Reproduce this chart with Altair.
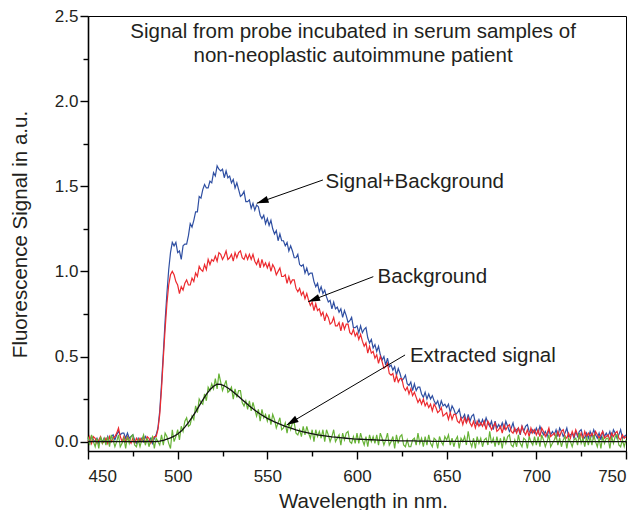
import altair as alt
import pandas as pd

# wavelength grids (nm)
wavelength = list(range(450, 751, 1))       # measured spectra, 1 nm sampling
wavelength_fit = list(range(450, 751, 2))   # smooth fit, 2 nm sampling

# Signal + Background (blue), one row = 10 nm
signal_bg = [
    0.02, 0.00, 0.03, 0.01, 0.00, 0.02, -0.01, 0.02, 0.00, 0.02,
    0.00, 0.03, -0.01, 0.03, 0.04, 0.01, 0.04, 0.06, 0.04, 0.05,
    0.05, 0.02, 0.05, 0.02, 0.03, 0.04, 0.01, -0.01, 0.02, 0.00,
    0.02, 0.00, 0.03, 0.01, 0.00, 0.02, -0.01, 0.02, 0.04, 0.08,
    0.18, 0.34, 0.52, 0.71, 0.87, 1.01, 1.11, 1.17, 1.15, 1.17,
    1.11, 1.12, 1.07, 1.15, 1.16, 1.16, 1.21, 1.28, 1.26, 1.30,
    1.35, 1.35, 1.44, 1.43, 1.48, 1.51, 1.49, 1.49, 1.53, 1.52,
    1.58, 1.56, 1.62, 1.60, 1.59, 1.60, 1.55, 1.59, 1.55, 1.56,
    1.52, 1.54, 1.49, 1.52, 1.48, 1.44, 1.45, 1.47, 1.41, 1.41,
    1.42, 1.37, 1.40, 1.36, 1.39, 1.38, 1.33, 1.31, 1.33, 1.28,
    1.31, 1.27, 1.30, 1.25, 1.22, 1.24, 1.18, 1.22, 1.18, 1.18,
    1.15, 1.17, 1.12, 1.15, 1.12, 1.08, 1.08, 1.10, 1.04, 1.03,
    1.04, 0.99, 1.02, 0.98, 0.99, 0.99, 0.94, 0.91, 0.93, 0.88,
    0.91, 0.87, 0.89, 0.85, 0.82, 0.83, 0.78, 0.82, 0.78, 0.79,
    0.76, 0.78, 0.73, 0.77, 0.74, 0.70, 0.71, 0.73, 0.67, 0.67,
    0.68, 0.64, 0.68, 0.64, 0.66, 0.67, 0.61, 0.58, 0.60, 0.55,
    0.57, 0.53, 0.56, 0.51, 0.48, 0.50, 0.45, 0.49, 0.44, 0.45,
    0.42, 0.44, 0.39, 0.43, 0.40, 0.36, 0.37, 0.39, 0.34, 0.33,
    0.35, 0.30, 0.34, 0.30, 0.32, 0.32, 0.28, 0.26, 0.29, 0.25,
    0.28, 0.25, 0.27, 0.24, 0.22, 0.24, 0.20, 0.24, 0.21, 0.22,
    0.20, 0.22, 0.17, 0.21, 0.19, 0.16, 0.17, 0.19, 0.14, 0.14,
    0.16, 0.11, 0.16, 0.12, 0.15, 0.16, 0.11, 0.10, 0.13, 0.10,
    0.13, 0.10, 0.14, 0.11, 0.09, 0.12, 0.07, 0.12, 0.08, 0.10,
    0.08, 0.11, 0.07, 0.12, 0.09, 0.06, 0.08, 0.11, 0.06, 0.07,
    0.08, 0.04, 0.09, 0.06, 0.09, 0.10, 0.06, 0.05, 0.07, 0.05,
    0.08, 0.05, 0.09, 0.06, 0.04, 0.06, 0.03, 0.07, 0.04, 0.06,
    0.04, 0.07, 0.03, 0.08, 0.06, 0.03, 0.05, 0.08, 0.03, 0.04,
    0.05, 0.02, 0.06, 0.03, 0.06, 0.07, 0.03, 0.02, 0.05, 0.02,
    0.06, 0.03, 0.07, 0.04, 0.02, 0.05, 0.01, 0.06, 0.03, 0.05,
    0.03, 0.06, 0.02, 0.07, 0.05, 0.02, 0.04, 0.07, 0.02, 0.03,
    0.04,
]

# Background (red)
background = [
    0.00, 0.03, -0.01, 0.03, 0.02, -0.01, 0.01, 0.03, -0.01, 0.00,
    0.02, -0.01, 0.03, 0.00, 0.02, 0.03, 0.05, 0.08, 0.03, 0.00,
    0.03, 0.00, 0.03, 0.01, -0.01, 0.02, -0.01, 0.02, 0.00, 0.02,
    0.00, 0.03, -0.01, 0.03, 0.02, -0.01, 0.01, 0.03, 0.03, 0.07,
    0.16, 0.31, 0.49, 0.66, 0.81, 0.92, 0.98, 1.00, 0.98, 0.94,
    0.92, 0.87, 0.91, 0.89, 0.93, 0.95, 0.92, 0.92, 0.96, 0.94,
    0.99, 0.97, 1.03, 1.01, 1.00, 1.04, 1.01, 1.07, 1.04, 1.07,
    1.06, 1.09, 1.06, 1.11, 1.10, 1.07, 1.09, 1.12, 1.07, 1.08,
    1.10, 1.06, 1.11, 1.08, 1.11, 1.12, 1.08, 1.07, 1.10, 1.07,
    1.10, 1.07, 1.10, 1.06, 1.04, 1.07, 1.02, 1.07, 1.03, 1.05,
    1.02, 1.05, 1.00, 1.04, 1.02, 0.98, 1.00, 1.02, 0.97, 0.97,
    0.98, 0.93, 0.97, 0.93, 0.95, 0.95, 0.90, 0.88, 0.90, 0.86,
    0.88, 0.84, 0.87, 0.83, 0.80, 0.82, 0.77, 0.81, 0.77, 0.78,
    0.74, 0.76, 0.71, 0.75, 0.73, 0.69, 0.70, 0.73, 0.68, 0.68,
    0.70, 0.65, 0.70, 0.66, 0.69, 0.69, 0.64, 0.63, 0.66, 0.62,
    0.64, 0.60, 0.63, 0.59, 0.56, 0.58, 0.52, 0.56, 0.52, 0.53,
    0.49, 0.51, 0.46, 0.50, 0.47, 0.43, 0.44, 0.46, 0.40, 0.39,
    0.40, 0.35, 0.39, 0.35, 0.37, 0.37, 0.32, 0.30, 0.32, 0.28,
    0.31, 0.27, 0.29, 0.26, 0.23, 0.25, 0.22, 0.25, 0.21, 0.23,
    0.20, 0.22, 0.18, 0.22, 0.20, 0.17, 0.18, 0.20, 0.15, 0.16,
    0.17, 0.13, 0.17, 0.13, 0.16, 0.16, 0.12, 0.11, 0.14, 0.10,
    0.14, 0.11, 0.14, 0.11, 0.09, 0.12, 0.08, 0.12, 0.09, 0.11,
    0.09, 0.12, 0.07, 0.12, 0.10, 0.07, 0.09, 0.11, 0.06, 0.07,
    0.09, 0.05, 0.10, 0.07, 0.09, 0.10, 0.06, 0.05, 0.08, 0.05,
    0.08, 0.05, 0.09, 0.06, 0.04, 0.07, 0.03, 0.08, 0.05, 0.07,
    0.04, 0.07, 0.03, 0.08, 0.06, 0.03, 0.05, 0.08, 0.03, 0.04,
    0.05, 0.02, 0.06, 0.03, 0.06, 0.07, 0.03, 0.02, 0.05, 0.02,
    0.06, 0.03, 0.07, 0.04, 0.02, 0.05, 0.01, 0.06, 0.03, 0.05,
    0.03, 0.05, 0.02, 0.06, 0.04, 0.02, 0.04, 0.06, 0.02, 0.03,
    0.04, 0.01, 0.05, 0.03, 0.05, 0.06, 0.02, 0.01, 0.04, 0.02,
    0.03,
]

# Extracted signal (green)
extracted = [
    0.03, -0.02, 0.04, 0.00, -0.03, 0.02, -0.04, 0.03, -0.01, 0.02,
    -0.02, 0.03, -0.03, 0.04, 0.01, -0.03, 0.00, 0.04, -0.03, -0.01,
    0.02, -0.04, 0.03, -0.01, 0.03, 0.04, -0.02, -0.03, 0.01, -0.03,
    0.01, 0.04, -0.02, 0.02, -0.03, 0.01, 0.03, -0.04, 0.02, 0.00,
    -0.02, 0.04, -0.02, 0.05, 0.03, -0.01, -0.04, 0.07, 0.00, 0.03,
    0.07, 0.01, 0.09, 0.06, 0.12, 0.14, 0.09, 0.10, 0.15, 0.13,
    0.21, 0.17, 0.25, 0.23, 0.22, 0.28, 0.24, 0.32, 0.30, 0.34,
    0.31, 0.37, 0.31, 0.40, 0.35, 0.30, 0.33, 0.36, 0.29, 0.30,
    0.32, 0.25, 0.31, 0.26, 0.30, 0.30, 0.23, 0.21, 0.24, 0.19,
    0.24, 0.18, 0.23, 0.19, 0.15, 0.19, 0.12, 0.19, 0.14, 0.16,
    0.12, 0.16, 0.10, 0.16, 0.13, 0.08, 0.11, 0.14, 0.07, 0.08,
    0.11, 0.05, 0.11, 0.07, 0.11, 0.11, 0.05, 0.04, 0.07, 0.03,
    0.09, 0.04, 0.09, 0.05, 0.02, 0.07, 0.00, 0.07, 0.03, 0.06,
    0.02, 0.07, 0.00, 0.07, 0.04, 0.00, 0.03, 0.07, 0.00, 0.02,
    0.04, -0.02, 0.05, 0.01, 0.05, 0.06, 0.00, -0.01, 0.03, -0.01,
    0.05, -0.01, 0.05, 0.01, -0.02, 0.03, -0.03, 0.04, 0.00, 0.03,
    -0.01, 0.04, -0.02, 0.05, 0.02, -0.02, 0.01, 0.05, -0.02, 0.00,
    0.03, -0.04, 0.04, -0.01, 0.03, 0.04, -0.02, -0.03, 0.01, -0.03,
    -0.03, 0.01, 0.02, -0.02, 0.05, -0.01, 0.02, -0.03, 0.03, -0.02,
    0.04, -0.01, -0.03, 0.02, 0.01, -0.04, 0.03, 0.00, -0.02, 0.03,
    0.01, 0.04, -0.02, 0.02, -0.03, 0.01, 0.03, -0.04, 0.02, 0.00,
    0.03, -0.02, 0.06, 0.00, -0.03, 0.02, -0.04, 0.03, -0.01, 0.02,
    -0.03, 0.01, 0.02, -0.02, 0.06, -0.01, 0.02, -0.03, 0.03, -0.02,
    0.02, -0.04, 0.03, -0.01, 0.03, 0.04, -0.02, -0.03, 0.01, -0.03,
    0.04, -0.01, -0.03, 0.02, 0.01, -0.04, 0.03, 0.00, -0.02, 0.03,
    -0.02, 0.03, -0.03, 0.04, 0.01, -0.03, 0.00, 0.04, -0.03, -0.01,
    0.01, 0.04, -0.02, 0.02, -0.03, 0.01, 0.03, -0.04, 0.02, 0.00,
    -0.03, 0.01, 0.02, -0.02, 0.05, -0.01, 0.02, -0.03, 0.03, -0.02,
    0.03, -0.02, 0.04, 0.00, -0.03, 0.02, -0.04, 0.03, -0.01, 0.02,
    0.02, -0.04, 0.03, -0.01, 0.03, 0.04, -0.02, -0.03, 0.01, -0.03,
    0.01,
]

# Smooth fit of the extracted signal (black), one row = 20 nm
fit = [
    0.0, 0.0, 0.0, 0.0, 0.0, 0.0, 0.0, 0.0, 0.0, 0.0,
    0.0, 0.0, 0.0, 0.0, 0.0, 0.0, 0.0, 0.0, 0.0, 0.0,
    0.003, 0.008, 0.015, 0.022, 0.032, 0.045, 0.062, 0.085, 0.112, 0.142,
    0.175, 0.210, 0.245, 0.278, 0.305, 0.325, 0.337, 0.336, 0.328, 0.315,
    0.300, 0.283, 0.265, 0.246, 0.228, 0.210, 0.193, 0.177, 0.162, 0.149,
    0.137, 0.126, 0.116, 0.107, 0.098, 0.090, 0.083, 0.076, 0.069, 0.063,
    0.058, 0.053, 0.048, 0.044, 0.040, 0.037, 0.034, 0.031, 0.028, 0.026,
    0.024, 0.022, 0.020, 0.018, 0.016, 0.015, 0.014, 0.013, 0.012, 0.011,
    0.010, 0.009, 0.008, 0.007, 0.007, 0.006, 0.006, 0.005, 0.005, 0.004,
    0.004, 0.004, 0.003, 0.003, 0.003, 0.003, 0.002, 0.002, 0.002, 0.002,
    0.002, 0.002, 0.001, 0.001, 0.001, 0.001, 0.001, 0.001, 0.001, 0.001,
    0.0, 0.0, 0.0, 0.0, 0.0, 0.0, 0.0, 0.0, 0.0, 0.0,
    0.0, 0.0, 0.0, 0.0, 0.0, 0.0, 0.0, 0.0, 0.0, 0.0,
    0.0, 0.0, 0.0, 0.0, 0.0, 0.0, 0.0, 0.0, 0.0, 0.0,
    0.0, 0.0, 0.0, 0.0, 0.0, 0.0, 0.0, 0.0, 0.0, 0.0,
    0.0,
]

# tick values
x_ticks = [450, 475, 500, 525, 550, 575, 600, 625, 650, 675, 700, 725, 750]
y_ticks = [0.0, 0.25, 0.5, 0.75, 1.0, 1.25, 1.5, 1.75, 2.0, 2.25, 2.5]

# annotations
title_lines = ["Signal from probe incubated in serum samples of",
               "non-neoplastic autoimmune patient"]
title_x = [597.8, 597.8]
title_y = [2.406, 2.265]

ann_labels = ["Signal+Background", "Background", "Extracted signal"]
ann_x = [582.5, 611.5, 629.5]
ann_y = [1.525, 0.967, 0.503]
arrow_from_x = [581.0, 609.1, 626.8]
arrow_from_y = [1.537, 0.969, 0.509]
arrow_to_x = [544.1, 572.8, 560.8]
arrow_to_y = [1.40, 0.822, 0.098]
arrow_angle = [250.7, 249.0, 239.4]

FONT = "Liberation Sans"
TXT = "#231f20"


def frame(xs, vals):
    return pd.DataFrame({"wavelength": xs, "value": vals})


x_enc = alt.X(
    "wavelength:Q",
    scale=alt.Scale(domain=[450, 750], nice=False, zero=False),
    axis=alt.Axis(
        values=x_ticks,
        labelExpr="datum.value % 50 === 0 ? datum.label : ''",
        tickSize={"condition": {"test": "datum.value % 50 === 0", "value": 8}, "value": 5},
        title="Wavelength in nm.",
        titleX=275,
        titleY=56,
        titleBaseline="alphabetic",
        titleAlign="center",
        labelPadding=9,
        grid=False,
    ),
)
y_enc = alt.Y(
    "value:Q",
    scale=alt.Scale(domain=[-0.055, 2.5], nice=False, zero=False),
    axis=alt.Axis(
        values=y_ticks,
        labelExpr="abs(datum.value % 0.5) < 1e-9 ? format(datum.value, '.1f') : ''",
        tickSize={"condition": {"test": "abs(datum.value % 0.5) < 1e-9", "value": 8}, "value": 5},
        title="Fluorescence Signal in a.u.",
        titleX=-68,
        titleY=218,
        titleAngle=270,
        titleBaseline="middle",
        titleAlign="center",
        labelPadding=2,
        grid=False,
    ),
)


def line(xs, vals, color, width=1.2):
    return alt.Chart(frame(xs, vals)).mark_line(color=color, strokeWidth=width).encode(
        x=x_enc, y=y_enc
    )


blue = line(wavelength, signal_bg, "#2f4fa2")
red = line(wavelength, background, "#ec2a2f")
green = line(wavelength, extracted, "#66b236")
black = line(wavelength_fit, fit, "#111111", 1.3)

title_df = pd.DataFrame({"wavelength": title_x, "value": title_y, "label": title_lines})
title_layer = alt.Chart(title_df).mark_text(
    align="center", baseline="middle", font=FONT, fontSize=20.5, color=TXT
).encode(x=x_enc, y=y_enc, text="label:N")

ann_df = pd.DataFrame({"wavelength": ann_x, "value": ann_y, "label": ann_labels})
ann_layer = alt.Chart(ann_df).mark_text(
    align="left", baseline="middle", font=FONT, fontSize=20.5, color=TXT
).encode(x=x_enc, y=y_enc, text="label:N")

arrow_df = pd.DataFrame({
    "wavelength": arrow_from_x, "value": arrow_from_y,
    "wavelength2": arrow_to_x, "value2": arrow_to_y,
})
arrow_lines = alt.Chart(arrow_df).mark_rule(color="black", strokeWidth=1).encode(
    x=x_enc, y=y_enc, x2="wavelength2:Q", y2="value2:Q"
)
head_df = pd.DataFrame({"wavelength": arrow_to_x, "value": arrow_to_y, "angle": arrow_angle})
arrow_heads = alt.Chart(head_df).mark_point(
    shape="M0,0 L-0.3,1 L0.3,1 Z", filled=True, size=560, color="black", opacity=1, strokeWidth=0
).encode(x=x_enc, y=y_enc, angle=alt.Angle("angle:Q", scale=None))

chart = alt.layer(
    blue, red, green, black, title_layer, arrow_lines, arrow_heads, ann_layer
).properties(
    width=538,
    height=435,
    autosize=alt.AutoSizeParams(type="none"),
    padding={"left": 80, "top": 8, "right": 8, "bottom": 59},
    background="white",
).configure_view(
    stroke="black", strokeWidth=1
).configure_axis(
    domainColor="black",
    domainWidth=1.6,
    tickColor="black",
    tickWidth=1.4,
    labelFont=FONT,
    labelFontSize=17,
    labelColor=TXT,
    titleFont=FONT,
    titleFontSize=20.5,
    titleFontWeight="normal",
    titleColor=TXT,
)

chart.save("out.html", embed_options={"renderer": "svg", "actions": False})
